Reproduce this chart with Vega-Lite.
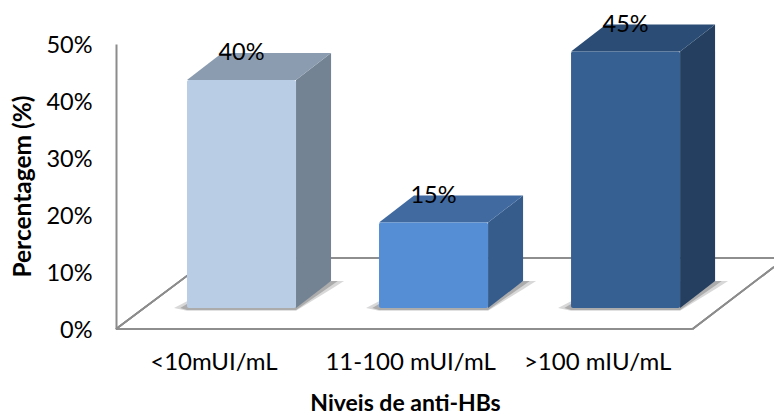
{
"$schema":"https://vega.github.io/schema/vega-lite/v6.json",
"width":658,"height":285,
"autosize":"none",
"padding":{"left":116,"top":44,"right":0,"bottom":85},
"background":"white",
"config":{"view":{"stroke":null},"font":"Lato"},
"data":{"values":[
{"categoria":"<10mUI/mL","valor":40,"rotulo":"40%"},
{"categoria":"11-100 mUI/mL","valor":15,"rotulo":"15%"},
{"categoria":">100 mIU/mL","valor":45,"rotulo":"45%"}]},
"transform":[
{"calculate":"indexof(['<10mUI/mL','11-100 mUI/mL','>100 mIU/mL'],datum.categoria)","as":"i"},
{"calculate":"datum.i-0.2839","as":"L"},
{"calculate":"datum.i+0.2839","as":"R"},
{"calculate":"datum.valor+3.68","as":"top"},
{"calculate":"3.68","as":"base"},
{"calculate":"0.1823","as":"d"},
{"calculate":"4.74","as":"h"}
],
"encoding":{
"x":{"type":"quantitative","scale":{"domain":[-0.6536,2.773],"nice":false,"zero":false},
"axis":{"values":[-0.146,0.878,1.852],"labelExpr":"datum.value<0?'<10mUI/mL':datum.value<1?'11-100 mUI/mL':'>100 mIU/mL'","domain":false,"ticks":false,"grid":false,"labelFontSize":24,"labelColor":"#000","labelPadding":21,"labelFont":"Lato","labelOverlap":false,"title":"Niveis de anti-HBs","titleFontSize":23,"titleFontWeight":"bold","titleColor":"#000","titleFont":"Lato","titleX":289,"titleY":74,"titleBaseline":"middle"}},
"y":{"type":"quantitative","scale":{"domain":[0,50],"nice":false},
"axis":{"values":[0,10,20,30,40,50],"labelExpr":"datum.value+'%'","domain":true,"domainColor":"#8c8c8c","domainWidth":2,"ticks":false,"grid":false,"labelFontSize":23.5,"labelColor":"#000","labelPadding":24,"labelOffset":1,"labelFont":"Lato","title":"Percentagem (%)","titleFontSize":24.5,"titleFontWeight":"bold","titleColor":"#000","titleFont":"Lato","titleX":-93,"titleY":142,"titleBaseline":"middle"}}
},
"resolve":{"scale":{"color":"independent"}},
"layer":[
{"mark":{"type":"rule","color":"#8c8c8c","strokeWidth":1.6},"encoding":{"x":{"datum":-0.6536},"x2":{"datum":2.349},"y":{"datum":0},"y2":{"datum":0}}},
{"mark":{"type":"rule","color":"#8c8c8c","strokeWidth":1.6},"encoding":{"x":{"datum":-0.6536},"x2":{"datum":-0.159},"y":{"datum":0},"y2":{"datum":12.46}}},
{"mark":{"type":"rule","color":"#8c8c8c","strokeWidth":1.6},"encoding":{"x":{"datum":2.349},"x2":{"datum":2.773},"y":{"datum":0},"y2":{"datum":10.88}}},
{"mark":{"type":"rule","color":"#8c8c8c","strokeWidth":1.6},"encoding":{"x":{"datum":-0.159},"x2":{"datum":2.773},"y":{"datum":12.46},"y2":{"datum":12.46}}},
{"transform":[
{"calculate":"[datum.L-0.0677,datum.L,datum.R,datum.R+datum.d,datum.R+datum.d+0.0677]","as":"px"},
{"calculate":"[datum.base,datum.base+1.2,datum.base+1.2,datum.base+datum.h,datum.base+datum.h]","as":"py"},
{"calculate":"[datum.base,datum.base-0.5,datum.base-0.5,datum.base+3.3,datum.base+datum.h]","as":"py2"},
{"flatten":["px","py","py2"]}],
"mark":{"type":"area","orient":"vertical","color":"#7f7f7f","opacity":0.3},
"encoding":{"x":{"field":"px"},"y":{"field":"py"},"y2":{"field":"py2"},"detail":{"field":"categoria"}}},
{"transform":[
{"calculate":"[datum.L-0.035,datum.L,datum.R,datum.R+datum.d,datum.R+datum.d+0.035]","as":"px"},
{"calculate":"[datum.base,datum.base+0.7,datum.base+0.7,datum.base+datum.h,datum.base+datum.h]","as":"py"},
{"calculate":"[datum.base,datum.base-0.35,datum.base-0.35,datum.base+3.9,datum.base+datum.h]","as":"py2"},
{"flatten":["px","py","py2"]}],
"mark":{"type":"area","orient":"vertical","color":"#7f7f7f","opacity":0.5},
"encoding":{"x":{"field":"px"},"y":{"field":"py"},"y2":{"field":"py2"},"detail":{"field":"categoria"}}},
{"transform":[
{"calculate":"[datum.R,datum.R+datum.d]","as":"px"},
{"calculate":"[datum.top,datum.top+datum.h]","as":"py"},
{"calculate":"[datum.base,datum.base+datum.h]","as":"py2"},
{"flatten":["px","py","py2"]}],
"mark":{"type":"area","orient":"vertical"},
"encoding":{"x":{"field":"px"},"y":{"field":"py"},"y2":{"field":"py2"},
"color":{"field":"categoria","type":"nominal","legend":null,"scale":{"domain":["<10mUI/mL","11-100 mUI/mL",">100 mIU/mL"],"range":["#748393","#365C8C","#243F60"]}}}},
{"transform":[
{"calculate":"[datum.L,datum.L+datum.d,datum.R,datum.R+datum.d]","as":"px"},
{"calculate":"[datum.top,datum.top+datum.h,datum.top+datum.h,datum.top+datum.h]","as":"py"},
{"calculate":"[datum.top,datum.top,datum.top,datum.top+datum.h]","as":"py2"},
{"flatten":["px","py","py2"]}],
"mark":{"type":"area","orient":"vertical"},
"encoding":{"x":{"field":"px"},"y":{"field":"py"},"y2":{"field":"py2"},
"color":{"field":"categoria","type":"nominal","legend":null,"scale":{"domain":["<10mUI/mL","11-100 mUI/mL",">100 mIU/mL"],"range":["#8B9CB0","#416BA0","#2B4C75"]}}}},
{"mark":{"type":"bar","cornerRadius":2},
"encoding":{"x":{"field":"L"},"x2":{"field":"R"},"y":{"field":"top"},"y2":{"field":"base"},
"color":{"field":"categoria","type":"nominal","legend":null,"scale":{"domain":["<10mUI/mL","11-100 mUI/mL",">100 mIU/mL"],"range":["#B9CDE5","#558ED5","#376092"]}}}},
{"transform":[{"calculate":"datum.top+datum.h","as":"ly"}],
"mark":{"type":"text","fontSize":23.5,"font":"Lato","color":"#000","baseline":"middle","align":"center"},
"encoding":{"x":{"field":"i"},"y":{"field":"ly"},"text":{"field":"rotulo"}}}
]
}
